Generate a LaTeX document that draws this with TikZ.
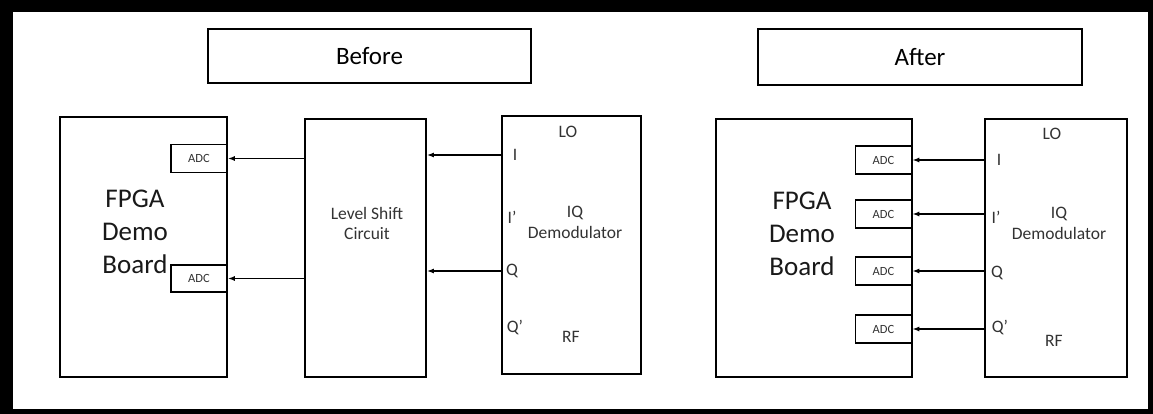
\documentclass[tikz,border=0pt]{standalone}
\usepackage{fontspec}
\setmainfont{Carlito}
\usetikzlibrary{arrows.meta, positioning}

\begin{document}
\begin{tikzpicture}[x=1pt, y=-1pt,
    blk/.style={draw, line width=1.8pt, inner sep=0pt, align=center},
    titlebox/.style={blk, minimum height=54pt, font=\fontsize{25}{28}\selectfont},
    adc/.style={blk, line width=1.6pt, minimum width=56pt, minimum height=28pt, font=\fontsize{12.5}{14}\selectfont, text=black!80},
    lbl/.style={inner sep=0pt, font=\fontsize{17.5}{21}\selectfont, text=black!80},
    big/.style={inner sep=0pt, align=center, font=\fontsize{27}{33}\selectfont, text=black!90},
    sig/.style={-{Latex[length=7pt, width=5pt]}, line width=1.5pt}]

    % frame
    \fill[black] (0,0) rectangle (1153,414);
    \fill[white] (13,12) rectangle (1148,409);
    \useasboundingbox (0,0) rectangle (1153,414);

    % before
    \node[titlebox, minimum width=323pt] (before) at (369.5,56) {Before};
    \node[blk, minimum width=167pt, minimum height=260pt] (fpgaA) at (143.5,247) {};
    \node[big] (fpgaAtxt) at (135,232) {FPGA\\Demo\\Board};
    \node[adc] (adcA1) at (199,158.5) {ADC};
    \node[adc, minimum height=27pt] (adcA2) at (199,278.5) {ADC};
    \node[blk, minimum width=121pt, minimum height=258pt] (level) at (365.5,248) {};
    \node[lbl, align=center, font=\fontsize{17.5}{20}\selectfont] (leveltxt) at (367,223) {Level Shift\\Circuit};
    \node[blk, minimum width=139pt, minimum height=258pt] (demodA) at (571.5,245) {};
    \node[lbl] (loA) at (568,132) {LO};
    \node[lbl, align=center] (iqA) at (575,222) {IQ\\Demodulator};
    \node[lbl] (rfA) at (571,337) {RF};
    \node[lbl] (iA) at (515,155) {I};
    \node[lbl] (ipA) at (512,217) {I’};
    \node[lbl] (qA) at (512,271) {Q};
    \node[lbl] (qpA) at (515,327) {Q’};

    \draw[sig] (demodA.west |- iA) -- (level.east |- iA);
    \draw[sig] (demodA.west |- qA) -- (level.east |- qA);
    \draw[sig] (level.west |- adcA1) -- (adcA1.east);
    \draw[sig] (level.west |- adcA2) -- (adcA2.east);

    % after
    \node[titlebox, minimum width=324pt, minimum height=56pt] (after) at (920,57) {After};
    \node[blk, minimum width=196pt, minimum height=258pt] (fpgaB) at (814,248) {};
    \node[big] (fpgaBtxt) at (802,234) {FPGA\\Demo\\Board};
    \node[adc] (adcB1) at (883.5,160) {ADC};
    \node[adc] (adcB2) at (883.5,214) {ADC};
    \node[adc] (adcB3) at (883.5,271) {ADC};
    \node[adc] (adcB4) at (883.5,329) {ADC};
    \node[blk, minimum width=142pt, minimum height=258pt] (demodB) at (1056,248) {};
    \node[lbl] (loB) at (1052,134) {LO};
    \node[lbl, align=center] (iqB) at (1059,223) {IQ\\Demodulator};
    \node[lbl] (rfB) at (1054,341) {RF};
    \node[lbl] (iB) at (999,160) {I};
    \node[lbl] (ipB) at (996,217) {I’};
    \node[lbl] (qB) at (997,273) {Q};
    \node[lbl] (qpB) at (1000,327) {Q’};

    \draw[sig] (demodB.west |- adcB1) -- (adcB1.east);
    \draw[sig] (demodB.west |- adcB2) -- (adcB2.east);
    \draw[sig] (demodB.west |- adcB3) -- (adcB3.east);
    \draw[sig] (demodB.west |- adcB4) -- (adcB4.east);
\end{tikzpicture}
\end{document}
